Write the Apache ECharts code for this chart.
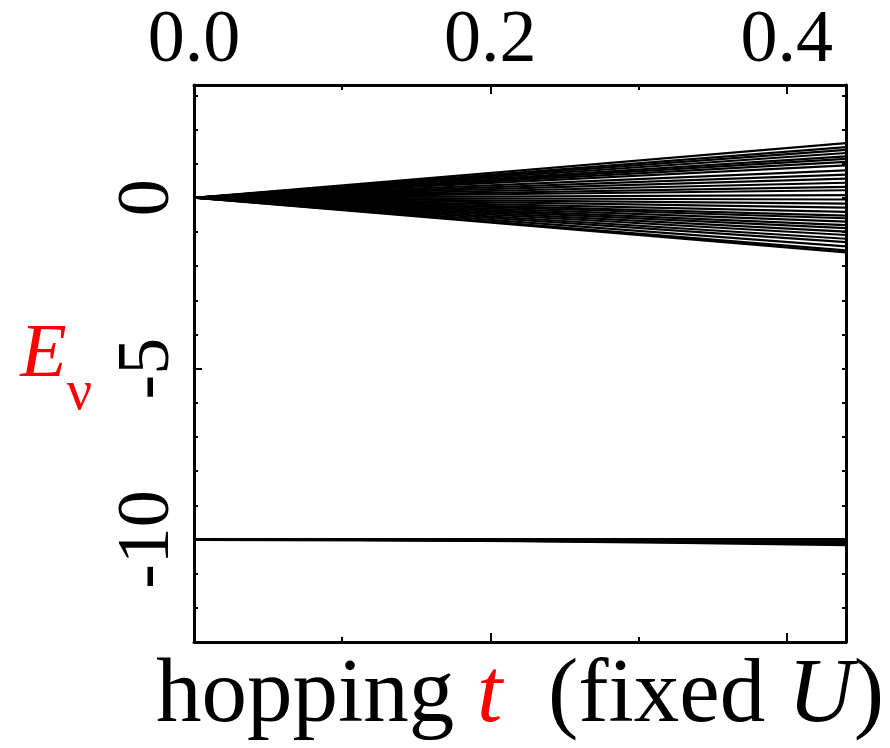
<!DOCTYPE html>
<html>
<head>
<meta charset="utf-8">
<script src="https://cdn.jsdelivr.net/npm/echarts@6/dist/echarts.min.js"></script>
<style>html,body{margin:0;padding:0;background:#fff}#c{width:890px;height:748px}</style>
</head>
<body>
<div id="c"></div>
<script>
// hopping t range and tick labels
const xMin = 0, xMax = 0.44;
const xTickLabels = ['0.0', '0.2', '0.4'];
const yMin = -13, yMax = 3.3;
const yTickLabels = [0, -5, -10];

// Upper manifold: energies E_nu at t = 0.44 (all lines start at E = 0, t = 0)
const upperT = [0, 0.44];
const upperEnd = [1.60, 1.48, 1.40, 1.31, 1.21, 1.14, 1.05, 0.95, 0.80, 0.68, 0.56, 0.44,
  0.32, 0.22, 0.08, -0.05, -0.17, -0.29, -0.41, -0.52, -0.60, -0.70, -0.80, -0.89,
  -0.99, -1.09, -1.20, -1.30, -1.42, -1.54, -1.60];

// Lower manifold (near -U): energies sampled at these t values
const lowerT = [0, 0.11, 0.22, 0.33, 0.44];
const lowerA = [-10.0, -10.0, -10.0, -10.0, -10.0];
const lowerB = [-10.0, -10.005, -10.02, -10.04, -10.07];
const lowerC = [-10.0, -10.01, -10.03, -10.07, -10.12];
const lowerD = [-10.0, -10.01, -10.04, -10.09, -10.16];

const FONT = '"Liberation Serif", "Times New Roman", Times, serif';
const series = [];
upperEnd.forEach(function (v) {
  series.push({
    type: 'line', showSymbol: false, silent: true, animation: false,
    data: [[upperT[0], 0], [upperT[1], v]],
    lineStyle: { color: '#000', width: 2.2 }
  });
});
[lowerA, lowerB, lowerC, lowerD].forEach(function (arr) {
  series.push({
    type: 'line', showSymbol: false, silent: true, animation: false,
    data: lowerT.map(function (t, i) { return [t, arr[i]]; }),
    lineStyle: { color: '#000', width: 2.8 }
  });
});

const axisLine = { show: true, onZero: false, lineStyle: { color: '#000', width: 3 } };
const chart = echarts.init(document.getElementById('c'));
chart.setOption({
  animation: false,
  backgroundColor: '#fff',
  textStyle: { fontFamily: FONT },
  grid: { left: 194, top: 85, right: 44, bottom: 103, containLabel: false },
  xAxis: [
    {
      type: 'value', position: 'top', min: xMin, max: xMax, interval: 0.2,
      axisLine: axisLine, splitLine: { show: false },
      axisTick: { inside: true, length: 9, lineStyle: { color: '#000', width: 2 } },
      minorTick: { show: true, splitNumber: 2, length: 5, lineStyle: { color: '#000', width: 2 } },
      axisLabel: {
        margin: 6, color: '#000', fontFamily: FONT, fontSize: 74,
        formatter: function (v) { const i = Math.round(v / 0.2); return xTickLabels[i] || ''; }
      }
    },
    {
      type: 'value', position: 'bottom', min: xMin, max: xMax, interval: 0.2,
      axisLine: axisLine, splitLine: { show: false },
      axisTick: { inside: true, length: 9, lineStyle: { color: '#000', width: 2 } },
      minorTick: { show: true, splitNumber: 2, length: 5, lineStyle: { color: '#000', width: 2 } },
      axisLabel: { show: false },
      name: '{n|hopping }{t|t}{n|  (fixed }{u|U}{n|)}',
      nameLocation: 'middle', nameGap: 10,
      nameTextStyle: {
        fontFamily: FONT, fontSize: 91,
        rich: {
          n: { fontFamily: FONT, fontSize: 91, color: '#000' },
          t: { fontFamily: FONT, fontSize: 91, color: '#ff0000', fontStyle: 'italic' },
          u: { fontFamily: FONT, fontSize: 91, color: '#000', fontStyle: 'italic' }
        }
      }
    }
  ],
  yAxis: [
    {
      type: 'value', position: 'left', min: yMin, max: yMax, interval: 1,
      axisLine: axisLine, splitLine: { show: false },
      axisTick: { inside: true, length: 4, lineStyle: { color: '#000', width: 2 } },
      axisLabel: {
        rotate: 90, margin: 8, color: '#000', fontFamily: FONT, fontSize: 74,
        formatter: function (v) { return yTickLabels.indexOf(v) >= 0 ? String(v) : ''; }
      },
      name: '{e|E}{v|ν}', nameLocation: 'middle', nameRotate: 0, nameGap: 102,
      nameTextStyle: {
        fontFamily: FONT,
        rich: {
          e: { fontFamily: FONT, fontSize: 76, color: '#ff0000', fontStyle: 'italic', padding: [0, 0, 14, 0] },
          v: { fontFamily: FONT, fontSize: 56, color: '#ff0000', padding: [62, 0, 0, 0] }
        }
      }
    },
    {
      type: 'value', position: 'left', min: yMin, max: yMax,
      axisLine: { show: false }, splitLine: { show: false },
      axisTick: { inside: true, length: 8, customValues: yTickLabels, lineStyle: { color: '#000', width: 2 } },
      axisLabel: { show: false }
    },
    {
      type: 'value', position: 'right', min: yMin, max: yMax, interval: 1,
      axisLine: axisLine, splitLine: { show: false },
      axisTick: { inside: true, length: 4, lineStyle: { color: '#000', width: 2 } },
      axisLabel: { show: false }
    }
  ],
  series: series
});
</script>
</body>
</html>
